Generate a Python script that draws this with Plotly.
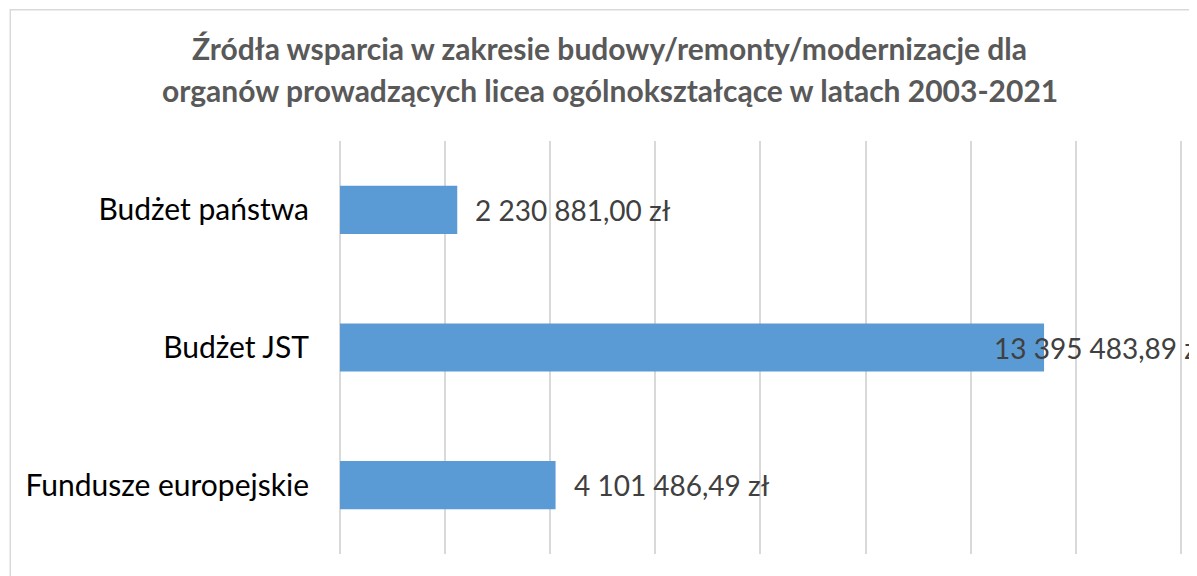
import plotly.graph_objects as go

categories = ["Budżet państwa", "Budżet JST", "Fundusze europejskie"]
values = [2230881.00, 13395483.89, 4101486.49]
label_shift = [16, -52, 16]
title_lines = [
    "Źródła wsparcia w zakresie budowy/remonty/modernizacje dla",
    "organów prowadzących licea ogólnokształcące w latach 2003-2021",
]


def pl_money(v):
    s = f"{v:,.2f}"
    s = s.replace(",", " ").replace(".", ",")
    return s + " zł"


FONT = "Lato"
fig = go.Figure()
fig.add_trace(go.Bar(
    x=values, y=categories, orientation="h",
    marker=dict(color="#5B9BD5", line=dict(width=0)),
    hoverinfo="skip",
))

annotations = []
for c, v, sh in zip(categories, values, label_shift):
    annotations.append(dict(
        x=v, y=c, xref="x", yref="y", text=pl_money(v), showarrow=False,
        xanchor="left", yanchor="middle", xshift=sh,
        font=dict(family=FONT, size=28, color="#404040"),
    ))
for yy, t in zip([1.226, 1.124], title_lines):
    annotations.append(dict(
        x=0.3203, y=yy, xref="paper", yref="paper", text=f"<b>{t}</b>",
        showarrow=False, xanchor="center", yanchor="middle",
        font=dict(family=FONT, size=30, color="#595959"),
    ))

fig.update_layout(
    width=1189, height=568,
    margin=dict(l=331.5, r=15, t=133.25, b=22.25),
    paper_bgcolor="white", plot_bgcolor="white",
    bargap=0.65, showlegend=False,
    annotations=annotations,
    shapes=[dict(type="rect", xref="paper", yref="paper",
                 x0=-0.3916, x1=1.2, y0=-0.3, y1=1.318,
                 line=dict(color="#D9D9D9", width=1.5), layer="below")],
    xaxis=dict(range=[0, 16.02e6], tickvals=[i * 2e6 for i in range(9)],
               showticklabels=False,
               showgrid=True, gridcolor="#D9D9D9", gridwidth=1.5,
               zeroline=True, zerolinecolor="#D9D9D9", zerolinewidth=1.5,
               showline=False, fixedrange=True),
    yaxis=dict(autorange="reversed", ticks="", ticklabelstandoff=30,
               tickfont=dict(family=FONT, size=30, color="#000000"),
               showgrid=False, zeroline=False, showline=False),
)

fig.write_html("out.html")
